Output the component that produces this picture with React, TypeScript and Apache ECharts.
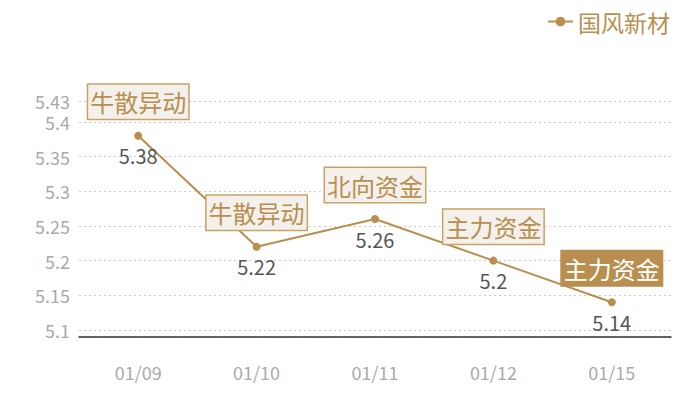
import React, { useEffect, useRef } from "react";
import * as echarts from "echarts";

const categories = ["01/09", "01/10", "01/11", "01/12", "01/15"];
const values = [5.38, 5.22, 5.26, 5.2, 5.14];
const tags = ["牛散异动", "牛散异动", "北向资金", "主力资金", "主力资金"];
const highlighted = [false, false, false, false, true];
const seriesName = "国风新材";
const yMin = 5.09;
const yMax = 5.43;

const GOLD = "#b88f4f";
const FONT = "'Noto Sans CJK SC', 'Noto Sans', sans-serif";

export default function App() {
  const ref = useRef<HTMLDivElement>(null);
  useEffect(() => {
    if (!ref.current) return;
    const chart = echarts.init(ref.current, undefined, { renderer: "svg" });
    chart.setOption({
      animation: false,
      textStyle: { fontFamily: FONT },
      legend: {
        data: [seriesName],
        right: 25,
        top: 5,
        itemWidth: 25,
        itemHeight: 12,
        itemGap: 10,
        textStyle: { color: GOLD, fontSize: 23, fontFamily: FONT },
      },
      grid: { left: 79, right: 29, top: 101, bottom: 63 },
      xAxis: {
        type: "category",
        data: categories,
        boundaryGap: true,
        axisLine: { lineStyle: { color: "#333", width: 1.5 } },
        axisTick: { show: false },
        axisLabel: { color: "#aaa", fontSize: 18, margin: 26, fontFamily: FONT },
      },
      yAxis: {
        type: "value",
        min: yMin,
        max: yMax,
        splitNumber: 5,
        axisLine: { show: false },
        axisTick: { show: false },
        axisLabel: { color: "#aaa", fontSize: 18, margin: 9, showMinLabel: false, fontFamily: FONT },
        splitLine: { lineStyle: { color: "#ccc", type: [2, 3] } },
      },
      series: [
        {
          name: seriesName,
          type: "line",
          data: values,
          symbol: "circle",
          symbolSize: 8,
          itemStyle: { color: GOLD },
          lineStyle: { color: GOLD, width: 2 },
          label: {
            show: true,
            position: "bottom",
            distance: 6,
            color: "#555",
            fontSize: 20,
            fontFamily: FONT,
          },
          z: 2,
        },
        {
          name: "tags",
          type: "scatter",
          data: values.map((v, i) => ({
            value: v,
            label: highlighted[i]
              ? { backgroundColor: GOLD, color: "#fff", borderColor: GOLD }
              : {},
          })),
          symbolSize: 2,
          itemStyle: { color: "rgba(0,0,0,0)", opacity: 1 },
          silent: true,
          z: 5,
          label: {
            show: true,
            position: "top",
            distance: 16,
            formatter: (p: any) => tags[p.dataIndex],
            color: GOLD,
            fontSize: 24,
            lineHeight: 24,
            fontFamily: FONT,
            backgroundColor: "#f4f0eb",
            borderColor: "#c9a266",
            borderWidth: 1.5,
            padding: [5, 2, 5, 2],
          },
        },
      ],
    });
    return () => chart.dispose();
  }, []);
  return <div ref={ref} style={{ width: 700, height: 400, margin: -8 }} />;
}
